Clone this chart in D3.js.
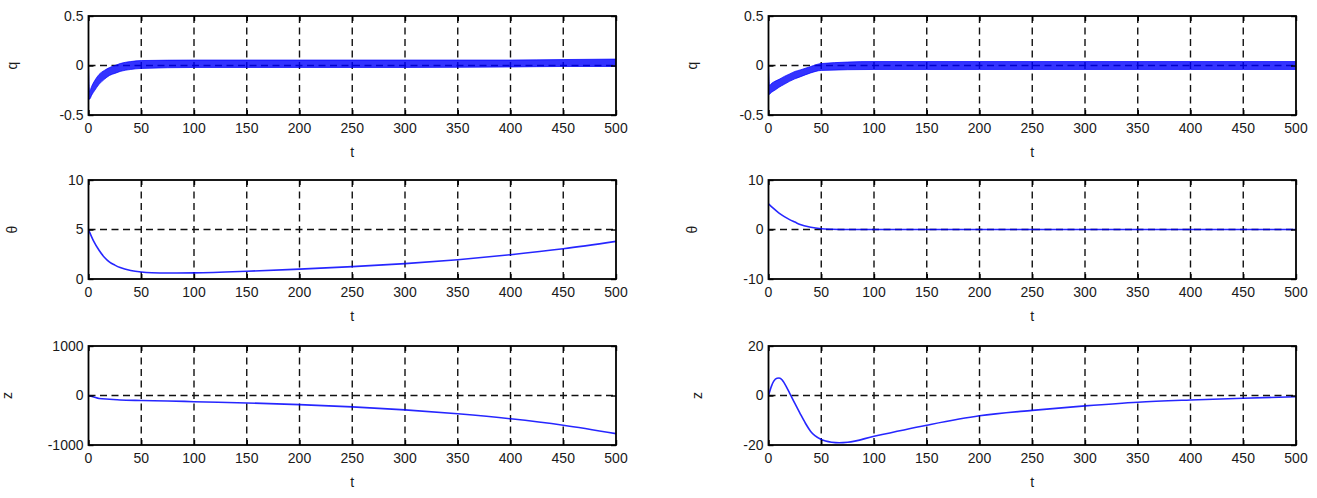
<!DOCTYPE html>
<html>
<head>
<meta charset="utf-8">
<script src="https://cdn.jsdelivr.net/npm/d3@7.9.0/dist/d3.min.js"></script>
<style>
  html, body { margin: 0; padding: 0; background: #fff; }
  svg text { font-family: "Liberation Sans", Arial, sans-serif; fill: #1a1a1a; }
</style>
</head>
<body>
<div id="chart"></div>
<script>
// ---- data ----
const xTicks = [0, 50, 100, 150, 200, 250, 300, 350, 400, 450, 500];

// q (band of a fast oscillation: upper / lower envelope)
const qTimes = [0, 1, 3, 6, 10, 15, 20, 25, 30, 40, 50, 100, 200, 300, 400, 450, 500];
const qLeftUpper = [0.0, -0.26, -0.21, -0.15, -0.09, -0.05, -0.02, 0.0, 0.02, 0.04, 0.05, 0.055, 0.055, 0.055, 0.055, 0.06, 0.065];
const qLeftLower = [-0.33, -0.34, -0.3, -0.25, -0.19, -0.14, -0.1, -0.08, -0.06, -0.04, -0.03, -0.02, -0.02, -0.02, -0.015, -0.01, -0.01];
const qRightUpper = [0.0, -0.2, -0.18, -0.16, -0.14, -0.11, -0.085, -0.06, -0.045, -0.01, 0.02, 0.04, 0.04, 0.04, 0.04, 0.04, 0.04];
const qRightLower = [-0.3, -0.29, -0.27, -0.25, -0.22, -0.19, -0.16, -0.135, -0.115, -0.075, -0.05, -0.04, -0.04, -0.04, -0.04, -0.04, -0.04];

// theta
const thLeftTimes = [0, 5, 10, 15, 20, 25, 30, 40, 50, 60, 75, 100, 150, 200, 250, 300, 350, 400, 450, 500];
const thLeftValues = [5.0, 3.8, 2.9, 2.2, 1.7, 1.4, 1.15, 0.85, 0.7, 0.63, 0.6, 0.62, 0.78, 1.0, 1.25, 1.55, 1.95, 2.45, 3.05, 3.8];
const thRightTimes = [0, 5, 10, 15, 20, 25, 30, 40, 50, 60, 75, 100, 200, 300, 400, 500];
const thRightValues = [5.2, 4.2, 3.3, 2.6, 2.0, 1.5, 1.0, 0.45, 0.15, 0.05, 0, 0, 0, 0, 0, 0];

// z
const zLeftTimes = [0, 5, 10, 20, 30, 50, 75, 100, 150, 200, 250, 300, 350, 400, 450, 500];
const zLeftValues = [0, -30, -60, -75, -90, -100, -110, -125, -150, -185, -230, -290, -370, -470, -600, -770];
const zRightTimes = [0, 3, 5, 8, 10, 13, 15, 20, 25, 30, 35, 40, 50, 60, 67, 75, 100, 150, 200, 250, 300, 350, 400, 450, 500];
const zRightValues = [0, 4, 5.8, 7, 7.1, 6.3, 5, 1, -3.2, -7.3, -11.2, -14.5, -17.8, -18.9, -19.1, -18.9, -16.5, -12, -8.2, -6, -4.2, -2.7, -1.8, -1.1, -0.5];

const panels = [
  { col: 0, row: 0, label: 'q', yTicks: [-0.5, 0, 0.5], band: [qTimes, qLeftUpper, qLeftLower], labelX: 12 },
  { col: 0, row: 1, label: 'θ', yTicks: [0, 5, 10], line: [thLeftTimes, thLeftValues], labelX: 12 },
  { col: 0, row: 2, label: 'z', yTicks: [-1000, 0, 1000], line: [zLeftTimes, zLeftValues], labelX: 7 },
  { col: 1, row: 0, label: 'q', yTicks: [-0.5, 0, 0.5], band: [qTimes, qRightUpper, qRightLower], labelX: 692 },
  { col: 1, row: 1, label: 'θ', yTicks: [-10, 0, 10], line: [thRightTimes, thRightValues], labelX: 692 },
  { col: 1, row: 2, label: 'z', yTicks: [-20, 0, 20], line: [zRightTimes, zRightValues], labelX: 697 },
];

// ---- layout ----
const width = 1317, height = 498;
const colLeft = [88.5, 768.5];
const plotW = 527.5;
const rowTop = [16, 180, 346];
const plotH = 99;
const blue = '#0000ff';

const svg = d3.select('#chart').append('svg')
  .attr('width', width).attr('height', height)
  .attr('viewBox', `0 0 ${width} ${height}`);
svg.append('rect').attr('width', width).attr('height', height).attr('fill', '#fff');

panels.forEach((p, i) => {
  const left = colLeft[p.col], top = rowTop[p.row];
  const x = d3.scaleLinear().domain([0, 500]).range([left, left + plotW]);
  const y = d3.scaleLinear().domain(d3.extent(p.yTicks)).range([top + plotH, top]);

  const g = svg.append('g');
  const clipId = 'clip' + i;
  g.append('clipPath').attr('id', clipId).append('rect')
    .attr('x', left).attr('y', top).attr('width', plotW).attr('height', plotH);

  // dashed grid
  const grid = g.append('g').attr('stroke', '#111').attr('stroke-width', 1.4)
    .attr('stroke-dasharray', '7,4.5');
  grid.selectAll('line.vx').data(xTicks.slice(1, -1)).join('line')
    .attr('x1', d => x(d)).attr('x2', d => x(d))
    .attr('y1', top).attr('y2', top + plotH);
  grid.selectAll('line.hy').data(p.yTicks.slice(1, -1)).join('line')
    .attr('y1', d => y(d)).attr('y2', d => y(d))
    .attr('x1', left).attr('x2', left + plotW);

  // data
  const plot = g.append('g').attr('clip-path', `url(#${clipId})`);
  if (p.band) {
    const [ts, up, lo] = p.band;
    const rows = ts.map((t, k) => ({ t, up: up[k], lo: lo[k] }));
    plot.append('path').datum(rows)
      .attr('fill', blue).attr('fill-opacity', 0.8)
      .attr('stroke', blue).attr('stroke-opacity', 0.7).attr('stroke-width', 1)
      .attr('d', d3.area().curve(d3.curveMonotoneX).x(d => x(d.t)).y0(d => y(d.lo)).y1(d => y(d.up)));
  } else {
    const [ts, vs] = p.line;
    const rows = ts.map((t, k) => ({ t, v: vs[k] }));
    plot.append('path').datum(rows)
      .attr('fill', 'none').attr('stroke', blue).attr('stroke-opacity', 0.85).attr('stroke-width', 1.6)
      .attr('d', d3.line().curve(d3.curveMonotoneX).x(d => x(d.t)).y(d => y(d.v)));
  }

  // axes (ticks inside, MATLAB style)
  const fmt = d => String(d);
  const xAxis = g.append('g').attr('transform', `translate(0,${top + plotH})`)
    .call(d3.axisTop(x).tickValues(xTicks).tickSize(5).tickFormat(''));
  const xAxisTop = g.append('g').attr('transform', `translate(0,${top})`)
    .call(d3.axisBottom(x).tickValues(xTicks).tickSize(5).tickFormat(''));
  const yAxis = g.append('g').attr('transform', `translate(${left},0)`)
    .call(d3.axisRight(y).tickValues(p.yTicks).tickSize(5).tickFormat(''));
  const yAxisR = g.append('g').attr('transform', `translate(${left + plotW},0)`)
    .call(d3.axisLeft(y).tickValues(p.yTicks).tickSize(5).tickFormat(''));
  [xAxis, xAxisTop, yAxis, yAxisR].forEach(a => {
    a.select('.domain').remove();
    a.selectAll('line').attr('stroke', '#000').attr('stroke-width', 1.4);
  });

  g.append('rect').attr('x', left).attr('y', top).attr('width', plotW).attr('height', plotH)
    .attr('fill', 'none').attr('stroke', '#000').attr('stroke-width', 1.8);

  // tick labels
  g.selectAll('text.xt').data(xTicks).join('text')
    .attr('x', d => x(d)).attr('y', top + plotH + 18)
    .attr('text-anchor', 'middle').attr('font-size', 14).text(fmt);
  g.selectAll('text.yt').data(p.yTicks).join('text')
    .attr('x', left - 5).attr('y', d => y(d)).attr('dy', '0.35em')
    .attr('text-anchor', 'end').attr('font-size', 14).text(fmt);

  // axis labels
  g.append('text').attr('x', left + plotW / 2).attr('y', top + plotH + 42)
    .attr('text-anchor', 'middle').attr('font-size', 14).text('t');
  g.append('text')
    .attr('transform', `translate(${p.labelX},${top + plotH / 2}) rotate(-90)`)
    .attr('dy', '0.35em').attr('text-anchor', 'middle').attr('font-size', 14).text(p.label);
});
</script>
</body>
</html>
